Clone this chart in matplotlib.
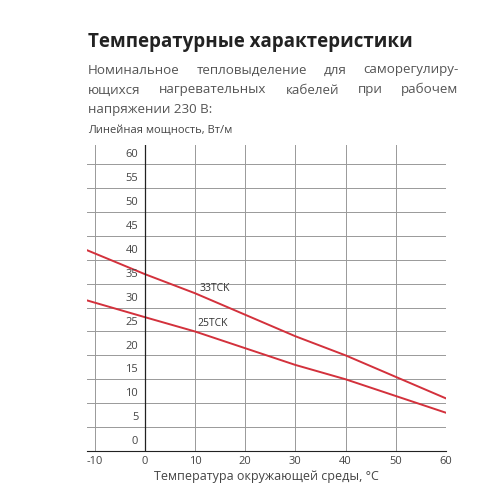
import matplotlib
matplotlib.use("Agg")
import matplotlib.pyplot as plt

temps = [-11.5, 0, 10, 20, 30, 40, 50, 60]
p33 = [42, 37, 33, 28.5, 24, 20, 15.5, 11]
p25 = [31.5, 28, 25, 21.5, 18, 15, 11.5, 8]
xticks = [-10, 0, 10, 20, 30, 40, 50, 60]
yticks = list(range(0, 65, 5))

plt.rcParams['font.family'] = ['Open Sans', 'DejaVu Sans']
plt.rcParams['axes.unicode_minus'] = False
fig = plt.figure(figsize=(5, 5), dpi=100)
ax = fig.add_axes([0.174, 0.098, 0.718, 0.612])
red = "#d3313c"
ax.plot(temps, p33, color=red, lw=1.4)
ax.plot(temps, p25, color=red, lw=1.4)
ax.text(11, 33.9, "33TCK", fontsize=7.5, color="#333", va="center")
ax.text(10.5, 26.6, "25TCK", fontsize=7.5, color="#333", va="center")
ax.set_xlim(-11.5, 60)
ax.set_ylim(0, 64)
ax.set_xticks(xticks)
ax.set_yticks(yticks)
ax.grid(color="#999", lw=0.7)
ax.axvline(0, color="#222", lw=0.9)
for s in ["top", "right", "left"]:
    ax.spines[s].set_visible(False)
ax.spines["bottom"].set_color("#222")
ax.tick_params(length=0, labelsize=8, colors="#444")
ax.set_yticklabels([])
for y in yticks:
    ax.text(-1.3, y + 0.8, str(y), ha="right", va="bottom", fontsize=8, color="#444")
ax.set_xlabel("Температура окружающей среды, °C", fontsize=9, color="#444", labelpad=2)

fig.text(0.176, 0.905, "Температурные характеристики", fontsize=13.5, fontweight="bold", color="#222")
fig.text(0.176, 0.735, "Линейная мощность, Вт/м", fontsize=8, color="#444")

lines = ["Номинальное тепловыделение для саморегулиру-",
         "ющихся нагревательных кабелей при рабочем",
         "напряжении 230 В:"]
x0, x1 = 0.176, 0.917
fig.canvas.draw()
r = fig.canvas.get_renderer()
for i, ln in enumerate(lines):
    y = 0.853 - i * 0.04
    words = ln.split()
    if i == len(lines) - 1:
        fig.text(x0, y, ln, fontsize=9.6, color="#555")
        continue
    ts = [fig.text(0, y, w, fontsize=9.6, color="#555") for w in words]
    ws = [t.get_window_extent(r).width / fig.bbox.width for t in ts]
    gap = (x1 - x0 - sum(ws)) / (len(words) - 1)
    x = x0
    for t, w in zip(ts, ws):
        t.set_x(x)
        x += w + gap

fig.savefig("out.png", dpi=100)
